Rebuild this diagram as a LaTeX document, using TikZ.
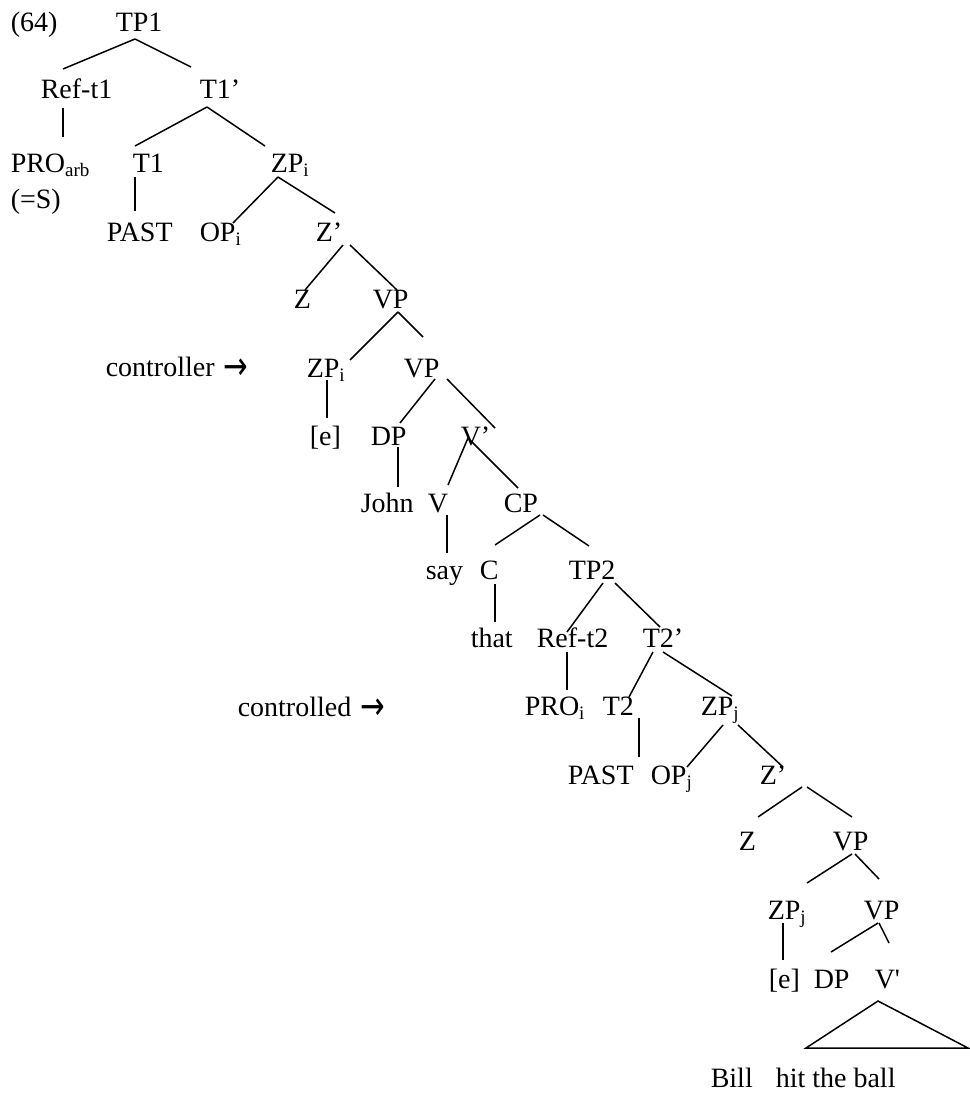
\documentclass[tikz,border=0pt]{standalone}
\usepackage{fontspec}
\setmainfont{Liberation Serif}
\newfontfamily\arrfont{DejaVu Sans}
\newcommand\sbt[1]{\raisebox{-4pt}{\fontsize{19}{20}\selectfont #1}}
\newcommand\rarr{\hspace*{2pt}\raisebox{-3.5pt}{\scalebox{1.05}[1.4]{\arrfont →}}}
\newcommand\br[6]{\draw ([shift={(#2,#3)}]#1.base west) -- ([shift={(#5,#6)}]#4.base west);}
\begin{document}
\begin{tikzpicture}[x=1pt,y=-1pt,
  tn/.style={anchor=base west, inner sep=0pt, font=\fontsize{28}{34}\selectfont},
  every path/.style={line width=1.5pt, line cap=butt}]
\useasboundingbox (0,0) rectangle (969,1094);
% nodes
\node[tn] (n64) at (10,32) {(64)};
\node[tn] (TP1) at (115,32) {TP1};
\node[tn] (Reft1) at (40,99) {Ref-t1};
\node[tn] (T1b) at (199,99) {T1’};
\node[tn] (PROarb) at (10,173) {PRO\sbt{arb}};
\node[tn] (T1) at (132,173) {T1};
\node[tn] (ZPi) at (270,173) {ZP\sbt{i}};
\node[tn] (S) at (10,208) {(=S)};
\node[tn] (PAST1) at (106,241) {PAST};
\node[tn] (OPi) at (199,241) {OP\sbt{i}};
\node[tn] (Zb1) at (315,241) {Z’};
\node[tn] (Z1) at (293,308) {Z};
\node[tn] (VP1) at (372,308) {VP};
\node[tn] (ctrl) at (105,376) {controller \rarr};
\node[tn] (ZPi2) at (306,377) {ZP\sbt{i}};
\node[tn] (VP2) at (403,377) {VP};
\node[tn] (e1) at (309,445) {[e]};
\node[tn] (DP1) at (370,445) {DP};
\node[tn] (Vb1) at (460,445) {V’};
\node[tn] (John) at (360,512) {John};
\node[tn] (V) at (427,512) {V};
\node[tn] (CP) at (503,512) {CP};
\node[tn] (say) at (425,579) {say};
\node[tn] (C) at (479,579) {C};
\node[tn] (TP2) at (568,579) {TP2};
\node[tn] (that) at (470,647) {that};
\node[tn] (Reft2) at (536,647) {Ref-t2};
\node[tn] (T2b) at (642,647) {T2’};
\node[tn] (ctrld) at (237,716) {controlled \rarr};
\node[tn] (PROi) at (524,715) {PRO\sbt{i}};
\node[tn] (T2) at (602,715) {T2};
\node[tn] (ZPj) at (700,715) {ZP\sbt{j}};
\node[tn] (PAST2) at (567,784) {PAST};
\node[tn] (OPj) at (650,784) {OP\sbt{j}};
\node[tn] (Zb2) at (759,784) {Z’};
\node[tn] (Z2) at (738,850) {Z};
\node[tn] (VP3) at (832,850) {VP};
\node[tn] (ZPj2) at (767,919) {ZP\sbt{j}};
\node[tn] (VP4) at (863,919) {VP};
\node[tn] (e2) at (768,988) {[e]};
\node[tn] (DP2) at (813,988) {DP};
\node[tn] (Vb2) at (874,988) {V\textquotesingle};
\node[tn] (Bill) at (710,1087) {Bill\hspace*{16pt} hit the ball};
% connectors
\br{TP1}{20}{7}{Reft1}{23}{-30}
\br{TP1}{20}{7}{T1b}{-8}{-32}
\br{Reft1}{23}{9}{PROarb}{53}{-36}
\br{T1b}{8}{8}{T1}{3}{-27}
\br{T1b}{8}{8}{ZPi}{-5}{-27}
\br{T1}{3}{4}{PAST1}{29}{-30}
\br{ZPi}{8}{4}{OPi}{34}{-18}
\br{ZPi}{8}{4}{Zb1}{20}{-28}
\br{Zb1}{28}{4}{Z1}{12}{-18}
\br{Zb1}{35}{4}{VP1}{25}{-18}
\br{VP1}{26}{4}{ZPi2}{44}{-17}
\br{VP1}{26}{4}{VP2}{20}{-40}
\br{ZPi2}{21}{3}{e1}{18}{-27}
\br{VP2}{32}{2}{DP1}{30}{-22}
\br{VP2}{44}{2}{Vb1}{35}{-17}
\br{DP1}{28}{2}{John}{38}{-25}
\br{Vb1}{8}{-7}{V}{21}{-27}
\br{Vb1}{10}{-5}{CP}{15}{-24}
\br{V}{20}{3}{say}{22}{-26}
\br{CP}{37}{3}{C}{16}{-34}
\br{CP}{40}{3}{TP2}{21}{-33}
\br{C}{16}{5}{that}{25}{-25}
\br{TP2}{35}{4}{Reft2}{31}{-15}
\br{TP2}{47}{4}{T2b}{18}{-20}
\br{Reft2}{31}{5}{PROi}{43}{-25}
\br{T2b}{11}{5}{T2}{27}{-18}
\br{T2b}{21}{5}{ZPj}{32}{-19}
\br{T2}{37}{3}{PAST2}{72}{-27}
\br{ZPj}{23}{10}{OPj}{37}{-17}
\br{ZPj}{38}{10}{Zb2}{24}{-17}
\br{Zb2}{43}{3}{Z2}{20}{-33}
\br{Zb2}{48}{3}{VP3}{20}{-33}
\br{VP3}{20}{4}{ZPj2}{40}{-36}
\br{VP3}{23}{4}{VP4}{16}{-40}
\br{ZPj2}{16}{4}{e2}{15}{-28}
\br{VP4}{15}{4}{DP2}{18}{-36}
\br{VP4}{16}{4}{Vb2}{15}{-45}
\draw ([shift={(4,13)}]Vb2.base west) -- ([shift={(96,-39)}]Bill.base west) -- ([shift={(258,-39)}]Bill.base west) -- cycle;
\end{tikzpicture}
\end{document}
